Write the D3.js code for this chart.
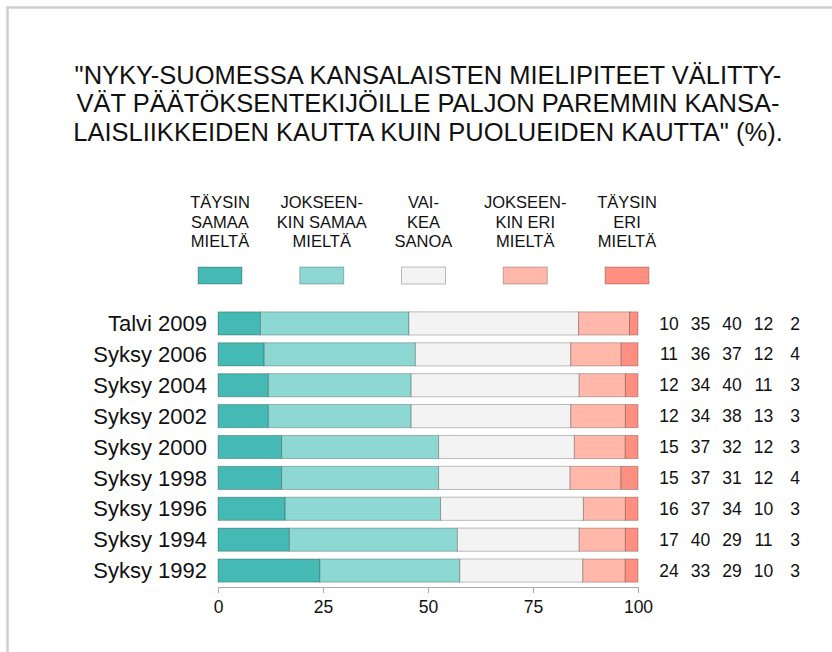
<!DOCTYPE html>
<html lang="fi">
<head>
<meta charset="UTF-8">
<title>Kansalaisliikkeet vs puolueet</title>
<script src="https://cdn.jsdelivr.net/npm/d3@7"></script>
<style>
  body { margin: 0; background: #fff; }
  svg { font-family: "Liberation Sans", Arial, sans-serif; }
</style>
</head>
<body>
<div id="chart"></div>
<script>
// vuodet (ylhäältä alas)
const categories = ["Talvi 2009", "Syksy 2006", "Syksy 2004", "Syksy 2002", "Syksy 2000",
  "Syksy 1998", "Syksy 1996", "Syksy 1994", "Syksy 1992"];

// sarjat, %
const taysinSamaa = [10, 11, 12, 12, 15, 15, 16, 17, 24];
const jokseenkinSamaa = [35, 36, 34, 34, 37, 37, 37, 40, 33];
const vaikeaSanoa = [40, 37, 40, 38, 32, 31, 34, 29, 29];
const jokseenkinEri = [12, 12, 11, 13, 12, 12, 10, 11, 10];
const taysinEri = [2, 4, 3, 3, 3, 4, 3, 3, 3];

const seriesKeys = ["ts", "js", "vs", "je", "te"];
const seriesLabels = [
  ["TÄYSIN", "SAMAA", "MIELTÄ"],
  ["JOKSEEN-", "KIN SAMAA", "MIELTÄ"],
  ["VAI-", "KEA", "SANOA"],
  ["JOKSEEN-", "KIN ERI", "MIELTÄ"],
  ["TÄYSIN", "ERI", "MIELTÄ"]
];
const colors = ["#45b9b3", "#8dd8d2", "#f3f3f3", "#ffb8aa", "#ff8f80"];
const tickValues = [0, 25, 50, 75, 100];

const titleLines = [
  "\"NYKY-SUOMESSA KANSALAISTEN MIELIPITEET VÄLITTY-",
  "VÄT PÄÄTÖKSENTEKIJÖILLE PALJON PAREMMIN KANSA-",
  "LAISLIIKKEIDEN KAUTTA KUIN PUOLUEIDEN KAUTTA\" (%)."
];

// taulukko stackia varten
const rows = categories.map((c, i) => ({
  cat: c,
  ts: taysinSamaa[i], js: jokseenkinSamaa[i], vs: vaikeaSanoa[i],
  je: jokseenkinEri[i], te: taysinEri[i]
}));

const W = 832, H = 652;
const svg = d3.select("#chart").append("svg")
  .attr("width", W).attr("height", H);

// kehys
svg.append("rect")
  .attr("x", 7.5).attr("y", 7.5)
  .attr("width", 1000).attr("height", 1000)
  .attr("fill", "none")
  .attr("stroke", "#cfcfcf")
  .attr("stroke-width", 2.5);

// otsikko
svg.append("g").selectAll("text")
  .data(titleLines)
  .join("text")
  .attr("x", 428)
  .attr("y", (d, i) => 84 + i * 28.3)
  .attr("text-anchor", "middle")
  .attr("font-size", 25.5)
  .attr("fill", "#111")
  .text(d => d);

// selite
const legendX = d3.scalePoint().domain(seriesKeys).range([220, 627]);
const leg = svg.append("g").selectAll("g")
  .data(seriesKeys)
  .join("g")
  .attr("transform", d => `translate(${legendX(d)},0)`);

leg.selectAll("text")
  .data((d, i) => seriesLabels[i])
  .join("text")
  .attr("y", (d, j) => 208 + j * 19.5)
  .attr("text-anchor", "middle")
  .attr("font-size", 16.5)
  .attr("fill", "#111")
  .text(d => d);

leg.append("rect")
  .attr("x", -22).attr("y", 267)
  .attr("width", 44).attr("height", 17)
  .attr("fill", (d, i) => colors[i])
  .attr("stroke", "rgba(0,0,0,0.25)");

// asteikot
const x = d3.scaleLinear().domain([0, 1]).range([218, 638]);
const y = d3.scaleBand().domain(categories).range([308, 586])
  .paddingInner(0.25).paddingOuter(0.125);

const stack = d3.stack().keys(seriesKeys).offset(d3.stackOffsetExpand);
const stacked = stack(rows);

svg.append("g").selectAll("g")
  .data(stacked)
  .join("g")
  .attr("fill", (d, i) => colors[i])
  .selectAll("rect")
  .data(d => d)
  .join("rect")
  .attr("x", d => x(d[0]))
  .attr("y", d => y(d.data.cat))
  .attr("width", d => x(d[1]) - x(d[0]))
  .attr("height", y.bandwidth())
  .attr("stroke", "rgba(0,0,0,0.25)")
  .attr("stroke-width", 1);

// rivien nimet
svg.append("g").selectAll("text")
  .data(categories)
  .join("text")
  .attr("x", 207)
  .attr("y", d => y(d) + y.bandwidth() / 2)
  .attr("dy", "0.35em")
  .attr("text-anchor", "end")
  .attr("font-size", 22)
  .attr("fill", "#111")
  .text(d => d);

// luvut oikealla
const numX = d3.scalePoint().domain(seriesKeys).range([669, 795]);
svg.append("g").selectAll("g")
  .data(rows)
  .join("g")
  .selectAll("text")
  .data(r => seriesKeys.map(k => ({ k, v: r[k], cat: r.cat })))
  .join("text")
  .attr("x", d => numX(d.k))
  .attr("y", d => y(d.cat) + y.bandwidth() / 2)
  .attr("dy", "0.35em")
  .attr("text-anchor", "middle")
  .attr("font-size", 17.5)
  .attr("fill", "#111")
  .text(d => d.v);

// x-akseli
const axis = svg.append("g")
  .attr("transform", "translate(0,587)")
  .call(d3.axisBottom(x)
    .tickValues(tickValues.map(v => v / 100))
    .tickFormat(d => Math.round(d * 100))
    .tickSize(6)
    .tickPadding(8));
axis.select(".domain").attr("stroke", "#aaa");
axis.selectAll(".tick line").attr("stroke", "#aaa");
axis.selectAll(".tick text")
  .attr("font-size", 17.5)
  .attr("font-family", "Liberation Sans, Arial, sans-serif")
  .attr("fill", "#111");
</script>
</body>
</html>
